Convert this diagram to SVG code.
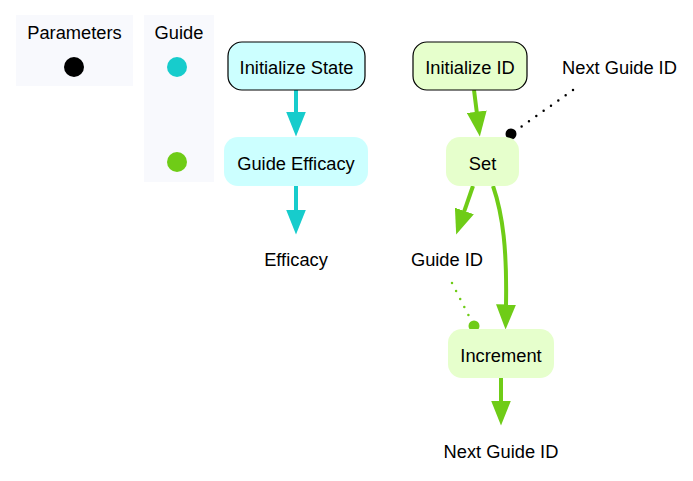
<svg xmlns="http://www.w3.org/2000/svg" width="693" height="481" viewBox="0 0 693 481">
<defs>
<style>
text{font-family:"Liberation Sans",Arial,sans-serif;font-size:18.3px;fill:#000;text-anchor:middle}
.panel{fill:#f8f9fd}
.cy{fill:#ccffff}
.gr{fill:#e6ffcc}
.st{stroke:#000;stroke-width:1.2}
.ec{stroke:#17cccc;stroke-width:4;fill:none}
.eg{stroke:#6fcc17;stroke-width:4;fill:none}
</style>
<marker id="ac" markerUnits="userSpaceOnUse" markerWidth="25" markerHeight="20" refX="0.5" refY="10" viewBox="0 0 25 20" orient="auto"><path d="M0,0 L25,10 L0,20 Z" fill="#17cccc"/></marker>
<marker id="ag" markerUnits="userSpaceOnUse" markerWidth="25" markerHeight="20" refX="0.5" refY="10" viewBox="0 0 25 20" orient="auto"><path d="M0,0 L25,10 L0,20 Z" fill="#6fcc17"/></marker>
</defs>
<g id="legend-parameters">
<rect class="panel" x="16" y="15" width="117" height="71"/>
<text x="74.5" y="39">Parameters</text>
<circle cx="74" cy="67" r="10" fill="#000"/>
</g>
<g id="legend-guide">
<rect class="panel" x="144" y="15" width="70" height="167"/>
<text x="179" y="39">Guide</text>
<circle cx="177" cy="67" r="10" fill="#17cccc"/>
<circle cx="177" cy="162" r="10" fill="#6fcc17"/>
</g>
<g id="connectors">
<path class="ec" d="M296,90 L296,112" marker-end="url(#ac)"/>
<path class="ec" d="M296,186 L296,210" marker-end="url(#ac)"/>
<path class="eg" d="M474,90 L476.8,112.2" marker-end="url(#ag)"/>
<path class="eg" d="M473,186 L464.2,211.4" marker-end="url(#ag)"/>
<path class="eg" d="M493,186 C503,215 507,250 506,305" marker-end="url(#ag)"/>
<path class="eg" d="M501,378 L501,401" marker-end="url(#ag)"/>
<path d="M573,90 L511,134" stroke="#000" stroke-width="2.5" stroke-linecap="round" stroke-dasharray="0 9" fill="none"/>
<circle cx="511" cy="134" r="5.5" fill="#000"/>
<path d="M452,283 L474,326" stroke="#6fcc17" stroke-width="2.5" stroke-linecap="round" stroke-dasharray="0 9" fill="none"/>
<circle cx="474" cy="326" r="5.5" fill="#6fcc17"/>
</g>
<g id="node-initialize-state">
<rect class="cy st" x="228" y="42" width="137" height="48" rx="14"/>
<text x="296.5" y="74">Initialize State</text>
</g>
<g id="node-guide-efficacy">
<rect class="cy" x="224" y="137" width="144" height="49" rx="14"/>
<text x="296" y="170">Guide Efficacy</text>
</g>
<g id="node-efficacy">
<text x="296" y="266">Efficacy</text>
</g>
<g id="node-initialize-id">
<rect class="gr st" x="413" y="42" width="114" height="48" rx="14"/>
<text x="470" y="74">Initialize ID</text>
</g>
<g id="node-next-guide-id-param">
<text x="619.5" y="74">Next Guide ID</text>
</g>
<g id="node-set">
<rect class="gr" x="446" y="137" width="73" height="49" rx="14"/>
<text x="482.5" y="170">Set</text>
</g>
<g id="node-guide-id">
<text x="447" y="266">Guide ID</text>
</g>
<g id="node-increment">
<rect class="gr" x="448" y="329" width="106" height="49" rx="14"/>
<text x="501" y="362">Increment</text>
</g>
<g id="node-next-guide-id">
<text x="501" y="458">Next Guide ID</text>
</g>
</svg>
